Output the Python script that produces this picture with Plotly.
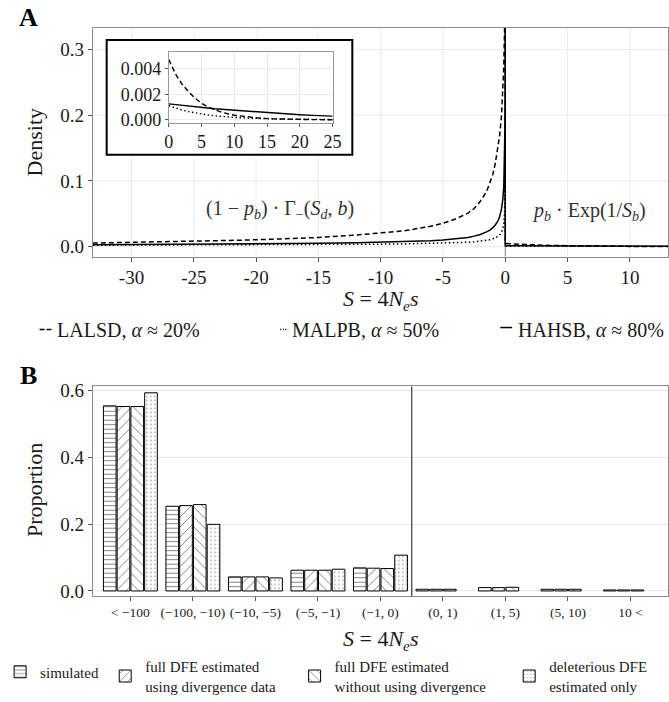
import plotly.graph_objects as go

W, H = 669, 702
FONT = "Liberation Serif"
TXT = "#1a1a1a"

# ---------------- Panel A data (density) ----------------
s_neg = [-33.1, -30, -27, -24, -21, -18, -15, -12, -10, -8, -6, -5, -4, -3, -2.5,
         -2, -1.5, -1.2, -1.0, -0.8, -0.6, -0.45, -0.3, -0.2, -0.12, -0.06, -0.03,
         -0.015, -0.005]
lalsd_neg = [0.0055, 0.0064, 0.0074, 0.0086, 0.0099, 0.0117, 0.0140, 0.0175, 0.0205,
             0.0245, 0.0310, 0.0355, 0.0420, 0.0510, 0.0580, 0.0690, 0.0840, 0.0980,
             0.1100, 0.1270, 0.1480, 0.1700, 0.2000, 0.2350, 0.2750, 0.3300, 0.3900,
             0.4500, 0.5000]
malpb_neg = [0.0022, 0.0023, 0.0024, 0.0026, 0.0027, 0.0029, 0.0032, 0.0035, 0.0038,
             0.0042, 0.0048, 0.0052, 0.0058, 0.0067, 0.0074, 0.0082, 0.0095, 0.0106,
             0.0120, 0.0135, 0.0155, 0.0180, 0.0220, 0.0270, 0.0350, 0.0500, 0.0750,
             0.1100, 0.2000]
hahsb_neg = [0.0030, 0.0032, 0.0034, 0.0037, 0.0040, 0.0044, 0.0050, 0.0058, 0.0065,
             0.0075, 0.0090, 0.0100, 0.0115, 0.0140, 0.0160, 0.0185, 0.0225, 0.0255,
             0.0290, 0.0330, 0.0390, 0.0460, 0.0580, 0.0720, 0.0920, 0.1300, 0.1800,
             0.2500, 0.4000]

s_pos = [0, 1, 2, 3, 4, 5, 6, 7, 8, 10, 12, 14, 16, 18, 20, 22, 25]
lalsd_pos = [0.0047, 0.0036, 0.0028, 0.0022, 0.0017, 0.0013, 0.0010, 0.00078, 0.0006,
             0.00036, 0.00022, 0.00013, 0.00008, 0.00005, 0.00003, 0.00002, 0.00001]
malpb_pos = [0.0011, 0.00092, 0.00077, 0.00064, 0.00054, 0.00045, 0.00038, 0.00032,
             0.00027, 0.00019, 0.00014, 0.00010, 0.00008, 0.00006, 0.00005, 0.00004,
             0.00003]
hahsb_pos = [0.00125, 0.00119, 0.00113, 0.00107, 0.00102, 0.00097, 0.00092, 0.00087,
             0.00083, 0.00075, 0.00066, 0.00059, 0.00052, 0.00045, 0.00040, 0.00035,
             0.00029]

series_labels = ["LALSD, <i>α</i> ≈ 20%", "MALPB, <i>α</i> ≈ 50%", "HAHSB, <i>α</i> ≈ 80%"]

x_ticks_a = [-30, -25, -20, -15, -10, -5, 0, 5, 10]
x_ticktext_a = ["-30", "-25", "-20", "-15", "-10", "-5", "0", "5", "10"]
y_ticks_a = [0.0, 0.1, 0.2, 0.3]
inset_x_ticks = [0, 5, 10, 15, 20, 25]
inset_y_ticks = [0.000, 0.002, 0.004]

# ---------------- Panel B data ----------------
categories = ["< −100", "(−100, −10)", "(−10, −5)", "(−5, −1)", "(−1, 0)",
              "(0, 1)", "(1, 5)", "(5, 10)", "10 <"]
simulated = [0.553, 0.253, 0.042, 0.062, 0.069, 0.005, 0.010, 0.005, 0.003]
full_div = [0.551, 0.255, 0.042, 0.062, 0.068, 0.005, 0.010, 0.005, 0.003]
full_nodiv = [0.551, 0.258, 0.042, 0.062, 0.067, 0.005, 0.011, 0.005, 0.003]
deleterious = [0.592, 0.199, 0.039, 0.065, 0.107, None, None, None, None]
bar_labels = ["simulated", "full DFE estimated<br>using divergence data",
              "full DFE estimated<br>without using divergence",
              "deleterious DFE<br>estimated only"]
y_ticks_b = [0.0, 0.2, 0.4, 0.6]

S_TITLE = "<i>S</i> = 4<i>N</i><sub><i>e</i></sub><i>s</i>"


def px(x):
    return x / W


def py(y):
    return 1 - y / H


def fnt(size, color=TXT):
    return dict(family=FONT, size=size, color=color)


fig = go.Figure()

# ---- panel A curves + inset curves
styles = [dict(dash="5px,3px"), dict(dash="1.5px,2.5px"), dict(dash="solid")]
negs = [lalsd_neg, malpb_neg, hahsb_neg]
poss = [lalsd_pos, malpb_pos, hahsb_pos]
for lab, neg, pos, st in zip(series_labels, negs, poss, styles):
    fig.add_trace(go.Scatter(x=s_neg + s_pos, y=neg + pos, mode="lines", name=lab,
                             line=dict(color="black", width=1.5, **st),
                             showlegend=False, xaxis="x", yaxis="y", hoverinfo="skip"))
for lab, pos, st in zip(series_labels, poss, styles):
    fig.add_trace(go.Scatter(x=s_pos, y=pos, mode="lines", name=lab,
                             line=dict(color="black", width=1.4, **st),
                             showlegend=False, xaxis="x2", yaxis="y2", hoverinfo="skip"))

# ---- panel B bars (one legend per entry so each key sits where the reference puts it)
patterns = [dict(shape="-", size=4.5, solidity=0.22),
            dict(shape="/", size=7, solidity=0.14),
            dict(shape="\\", size=7, solidity=0.14),
            dict(shape=".", size=4, solidity=0.12)]
legend_ids = ["legend", "legend2", "legend3", "legend4"]
for lab, vals, pat, lid in zip(bar_labels, [simulated, full_div, full_nodiv, deleterious],
                               patterns, legend_ids):
    fig.add_trace(go.Bar(x=categories, y=vals, name=lab, xaxis="x3", yaxis="y3",
                         legend=lid,
                         marker=dict(color="white", line=dict(color="black", width=1),
                                     pattern=dict(fgcolor="black", bgcolor="white", **pat)),
                         hoverinfo="skip"))

shapes = []
# panel A gridlines in the lower layer (so the inset box covers them)
for v in x_ticks_a:
    shapes.append(dict(type="line", xref="x", yref="paper", x0=v, x1=v,
                       y0=py(257), y1=py(28), line=dict(color="#ebebeb", width=1), layer="below"))
for v in y_ticks_a:
    shapes.append(dict(type="line", xref="paper", yref="y", x0=px(85), x1=px(668),
                       y0=v, y1=v, line=dict(color="#ebebeb", width=1), layer="below"))
# inset box
shapes.append(dict(type="rect", xref="paper", yref="paper", x0=px(99), x1=px(348),
                   y0=py(155), y1=py(40), fillcolor="white",
                   line=dict(color="black", width=2), layer="below"))
# vertical reference lines
shapes.append(dict(type="line", xref="x", yref="y domain", x0=0, x1=0, y0=0, y1=1,
                   line=dict(color="#808080", width=1), layer="below"))
shapes.append(dict(type="line", xref="x3", yref="y3 domain", x0=4.5, x1=4.5, y0=0, y1=1,
                   line=dict(color="#555555", width=1.4), layer="above"))
# manual legend keys for panel A
key_specs = [(31, 43, 330, "5px,2px"), (275, 283, 330, "1px,1.5px"), (498, 510, 328, "solid")]
for x0, x1, yy, d in key_specs:
    shapes.append(dict(type="line", xref="paper", yref="paper", x0=px(x0), x1=px(x1),
                       y0=py(yy), y1=py(yy), line=dict(color="black", width=1.5, dash=d)))

annotations = []
legend_x = [47, 285, 514]
for lab, lx in zip(series_labels, legend_x):
    annotations.append(dict(text=lab, xref="paper", yref="paper", x=px(lx), y=py(330),
                            xanchor="left", yanchor="middle", showarrow=False,
                            font=fnt(20)))
annotations.append(dict(text="(1 − <i>p</i><sub><i>b</i></sub>) · Γ<sub>−</sub>(<i>S</i><sub><i>d</i></sub>, <i>b</i>)",
                        xref="x", yref="y", x=-18.1, y=0.056, xanchor="center",
                        yanchor="middle", showarrow=False, font=fnt(20, "#333333")))
annotations.append(dict(text="<i>p</i><sub><i>b</i></sub> · Exp(1/<i>S</i><sub><i>b</i></sub>)",
                        xref="x", yref="y", x=6.7, y=0.053, xanchor="center",
                        yanchor="middle", showarrow=False, font=fnt(20, "#333333")))
annotations.append(dict(text="<b>A</b>", xref="paper", yref="paper", x=px(8), y=py(18),
                        xanchor="left", yanchor="middle", showarrow=False,
                        font=fnt(26, "black")))
annotations.append(dict(text="<b>B</b>", xref="paper", yref="paper", x=px(9), y=py(376),
                        xanchor="left", yanchor="middle", showarrow=False,
                        font=fnt(26, "black")))
# axis titles
annotations.append(dict(text="Density", xref="paper", yref="paper", x=px(26), y=py(143),
                        xanchor="center", yanchor="middle",
                        textangle=-90, showarrow=False, font=fnt(22)))
annotations.append(dict(text="Proportion", xref="paper", yref="paper", x=px(26), y=py(491),
                        xanchor="center", yanchor="middle",
                        textangle=-90, showarrow=False, font=fnt(22)))
annotations.append(dict(text=S_TITLE, xref="paper", yref="paper", x=px(377), y=py(300),
                        xanchor="center", yanchor="middle",
                        showarrow=False, font=fnt(22)))
annotations.append(dict(text=S_TITLE, xref="paper", yref="paper", x=px(377), y=py(641),
                        xanchor="center", yanchor="middle",
                        showarrow=False, font=fnt(22)))

axis_common = dict(showline=True, linecolor="#8c8c8c", linewidth=1, mirror=True,
                   ticks="outside", ticklen=4, tickcolor="#555555", zeroline=False,
                   automargin=False, tickfont=fnt(19))

legend_common = dict(xanchor="left", yanchor="middle", orientation="h",
                     font=fnt(15), bgcolor="rgba(0,0,0,0)", borderwidth=0)
key_centers = [(19, 673), (125.5, 677), (317.5, 677), (535, 677)]
legends = {}
for lid, (kx, ky) in zip(legend_ids, key_centers):
    legends[lid] = dict(x=px(kx - 28), y=py(ky), **legend_common)

fig.update_layout(
    width=W, height=H, margin=dict(l=0, r=0, t=0, b=0),
    paper_bgcolor="white", plot_bgcolor="rgba(0,0,0,0)",
    font=fnt(16),
    barmode="group", bargap=0.12, bargroupgap=0.08,
    showlegend=True,
    shapes=shapes, annotations=annotations,
    xaxis=dict(domain=[px(85), px(668)], range=[-33.1, 13.06], anchor="y",
               tickmode="array", tickvals=x_ticks_a, ticktext=x_ticktext_a,
               showgrid=False, **axis_common),
    yaxis=dict(domain=[py(257), py(28)], range=[-0.0152, 0.333], anchor="x",
               tickmode="array", tickvals=y_ticks_a, tickformat=".1f", showgrid=False,
               **axis_common),
    xaxis2=dict(domain=[px(162), px(328)], range=[0, 25], anchor="y2",
                tickmode="array", tickvals=inset_x_ticks, showgrid=True, gridcolor="#ebebeb",
                **{**axis_common, "ticklen": 3, "linecolor": "#999999", "tickfont": fnt(18)}),
    yaxis2=dict(domain=[py(123), py(52)], range=[-0.00023, 0.0053], anchor="x2",
                tickmode="array", tickvals=inset_y_ticks, tickformat=".3f",
                showgrid=True, gridcolor="#ebebeb",
                **{**axis_common, "ticklen": 3, "linecolor": "#999999", "tickfont": fnt(18)}),
    xaxis3=dict(domain=[px(85), px(668)], anchor="y3", type="category",
                range=[-0.6, 8.6], tickmode="array", tickvals=categories,
                ticktext=[c.replace("<", "&lt;") for c in categories], showgrid=False,
                **{**axis_common, "tickfont": fnt(13.5)}),
    yaxis3=dict(domain=[py(597), py(387)], range=[-0.0155, 0.611], anchor="x3",
                tickmode="array", tickvals=y_ticks_b, tickformat=".1f",
                showgrid=True, gridcolor="#ebebeb", **axis_common),
    **legends,
)

fig.write_html("out.html", config={"displayModeBar": False},
               post_script="document.body.style.margin='0px';")
